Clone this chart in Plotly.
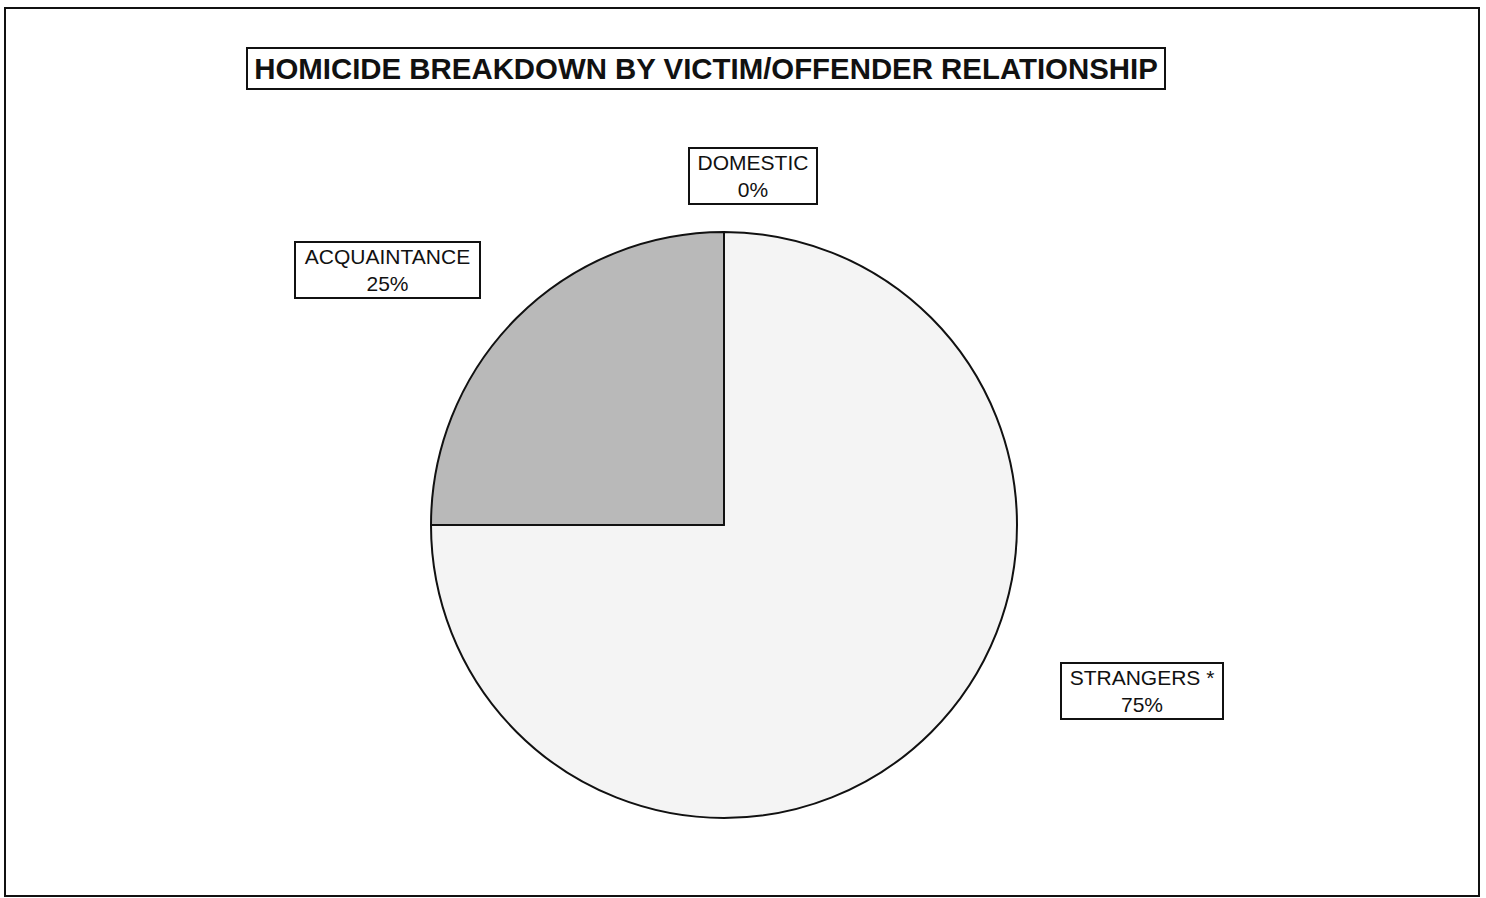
import plotly.graph_objects as go

title = "HOMICIDE BREAKDOWN BY VICTIM/OFFENDER RELATIONSHIP"
labels = ["DOMESTIC", "STRANGERS *", "ACQUAINTANCE"]
values = [0, 75, 25]
colors = ["#ffffff", "#f4f4f4", "#b9b9b9"]

W, H = 1486, 898

fig = go.Figure()
fig.add_trace(go.Pie(
    labels=labels, values=values, sort=False, direction="clockwise", rotation=0,
    marker=dict(colors=colors, line=dict(color="#111111", width=2)),
    textinfo="none", hoverinfo="label+percent", showlegend=False,
    domain=dict(x=[431 / W, 1017 / W], y=[1 - 818 / H, 1 - 232 / H]),
))

total = sum(values)
pct = [f"{round(v * 100 / total)}%" for v in values]
# label boxes: (x0, y0, x1, y1) in page px
label_boxes = [(688, 147, 818, 205), (1060, 662, 1224, 720), (294, 241, 481, 299)]

annotations = []
for (x0, y0, x1, y1), lab, p in zip(label_boxes, labels, pct):
    annotations.append(dict(
        x=(x0 + x1) / 2 / W, y=1 - (y0 + y1) / 2 / H, xref="paper", yref="paper",
        showarrow=False, text=f"{lab}<br>{p}", align="center",
        width=(x1 - x0) - 8, height=(y1 - y0) - 8,
        font=dict(family="Liberation Sans, Arial", size=21, color="#111111"),
        bordercolor="#111111", borderwidth=2, borderpad=2, bgcolor="#ffffff",
        xanchor="center", yanchor="middle",
    ))
annotations.append(dict(
    x=706 / W, y=1 - 68.5 / H, xref="paper", yref="paper", showarrow=False,
    text=f"<b>{title}</b>", width=912, height=35,
    font=dict(family="Liberation Sans, Arial", size=29.4, color="#111111"),
    bordercolor="#111111", borderwidth=2, borderpad=2, bgcolor="#ffffff",
    xanchor="center", yanchor="middle",
))

fig.update_layout(
    width=W, height=H, margin=dict(l=0, r=0, t=0, b=0),
    paper_bgcolor="#ffffff", plot_bgcolor="#ffffff",
    annotations=annotations,
    shapes=[dict(type="rect", xref="paper", yref="paper",
                 x0=5 / W, x1=1479 / W, y0=1 - 896 / H, y1=1 - 8 / H,
                 line=dict(color="#111111", width=2))],
)
fig.write_html("out.html", config={"displayModeBar": False},
               post_script="document.body.style.margin='0';document.body.style.overflow='hidden';")
